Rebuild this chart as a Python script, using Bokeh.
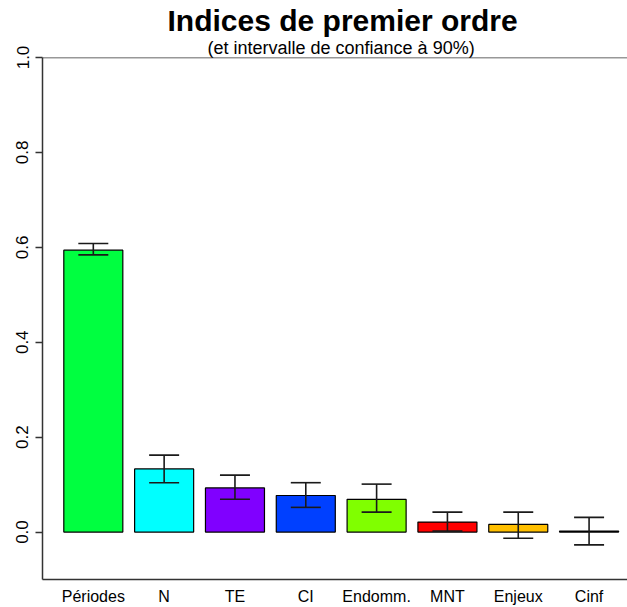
from bokeh.plotting import figure
from bokeh.models import Range1d, FixedTicker, Span, Title, ColumnDataSource
from bokeh.embed import file_html
from bokeh.resources import INLINE

# ---- data ----
categories = ["Périodes", "N", "TE", "CI", "Endomm.", "MNT", "Enjeux", "Cinf"]
indices = [0.594, 0.133, 0.093, 0.077, 0.069, 0.021, 0.016, 0.002]
ci_low = [0.584, 0.104, 0.069, 0.052, 0.042, 0.002, -0.013, -0.027]
ci_high = [0.608, 0.162, 0.120, 0.104, 0.101, 0.042, 0.042, 0.031]
colors = ["#00FF40", "#00FFFF", "#8000FF", "#0040FF", "#80FF00", "#FF0000", "#FFBF00", "#FF00BF"]
y_ticks = [0.0, 0.2, 0.4, 0.6, 0.8, 1.0]

# barplot positions (width 1, space 0.2)
centers = [0.7 + 1.2 * i for i in range(len(categories))]
half_cap = 0.254

src = ColumnDataSource(dict(
    x=centers, top=indices, lo=ci_low, hi=ci_high, color=colors,
    cl=[c - half_cap for c in centers], cr=[c + half_cap for c in centers],
))

FONT = "Liberation Sans"

p = figure(width=627, height=607, output_backend="svg", toolbar_location=None,
           x_range=Range1d(-0.161, 9.751), y_range=Range1d(-0.1, 1.0),
           min_border_left=42, min_border_right=0, min_border_top=57, min_border_bottom=28)
p.outline_line_color = None
p.xgrid.visible = False
p.ygrid.visible = False
p.background_fill_color = "white"
p.border_fill_color = "white"

sub = Title(text="(et intervalle de confiance à 90%)", align="left", offset=165,
            text_font=FONT, text_font_size="18px", text_font_style="normal",
            text_color="black", standoff=0)
p.add_layout(sub, "above")
main = Title(text="Indices de premier ordre", align="left", offset=125,
             text_font=FONT, text_font_size="30px", text_font_style="bold",
             text_color="black", standoff=-3)
p.add_layout(main, "above")

p.vbar(x="x", top="top", bottom=0, width=1.0, fill_color="color",
       line_color="black", line_width=1.2, source=src)

p.segment(x0="x", y0="lo", x1="x", y1="hi", line_color="#1a1a1a", line_width=1.6, source=src)
p.segment(x0="cl", y0="lo", x1="cr", y1="lo", line_color="#1a1a1a", line_width=1.6, source=src)
p.segment(x0="cl", y0="hi", x1="cr", y1="hi", line_color="#1a1a1a", line_width=1.6, source=src)

p.add_layout(Span(location=1.0, dimension="width", line_color="#333333", line_width=1.5))

# x axis
xa = p.xaxis[0]
xa.ticker = FixedTicker(ticks=centers)
xa.major_label_overrides = {c: lab for c, lab in zip(centers, categories)}
xa.major_tick_out = 0
xa.major_tick_in = 0
xa.minor_tick_line_color = None
xa.axis_line_color = "#333333"
xa.axis_line_width = 1.5
xa.major_label_text_font = FONT
xa.major_label_text_font_size = "16px"
xa.major_label_text_color = "black"
xa.major_label_standoff = 8

# y axis
ya = p.yaxis[0]
ya.ticker = FixedTicker(ticks=y_ticks)
ya.major_label_overrides = {t: f"{t:.1f}" for t in y_ticks}
ya.major_tick_out = 7
ya.major_tick_in = 0
ya.major_tick_line_color = "#333333"
ya.major_tick_line_width = 1.3
ya.minor_tick_line_color = None
ya.axis_line_color = "#333333"
ya.axis_line_width = 1.5
ya.major_label_orientation = "vertical"
ya.major_label_text_font = FONT
ya.major_label_text_font_size = "17px"
ya.major_label_text_color = "black"
ya.major_label_standoff = 7

open("out.html", "w").write(file_html(p, INLINE))
